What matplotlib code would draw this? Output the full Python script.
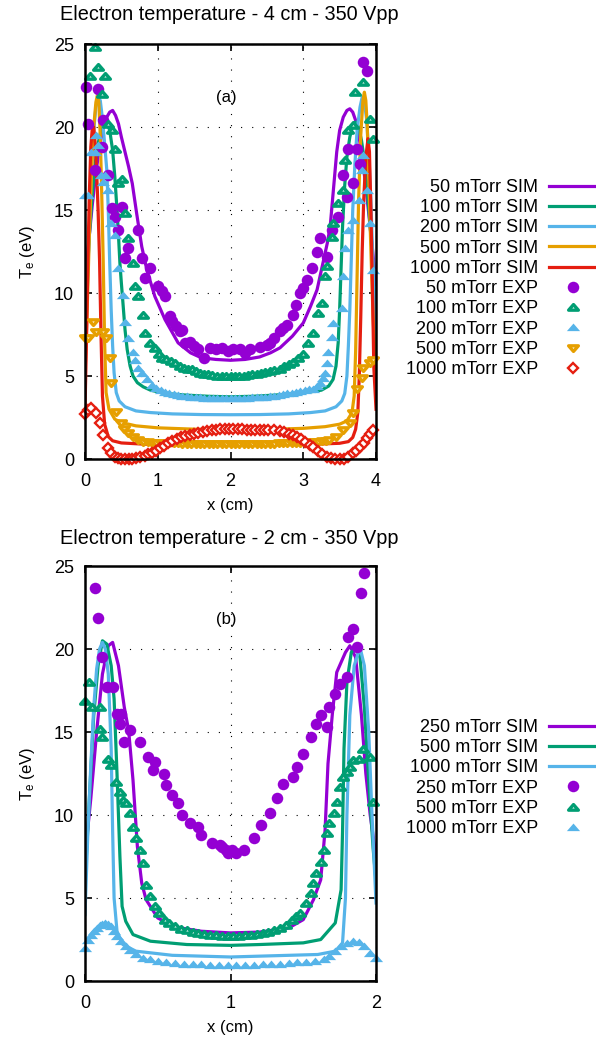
import matplotlib
matplotlib.use("Agg")
import matplotlib.pyplot as plt
from matplotlib.path import Path

plt.rcParams['font.family'] = ['Liberation Sans', 'DejaVu Sans']
plt.rcParams['mathtext.fontset'] = 'custom'
plt.rcParams['mathtext.rm'] = 'Liberation Sans'
plt.rcParams['mathtext.it'] = 'Liberation Sans:italic'

# ---------------- colours ----------------
C_PURPLE = '#9400D3'
C_GREEN = '#009E73'
C_BLUE = '#56B4E9'
C_ORANGE = '#E69F00'
C_RED = '#E51E10'

# ================= panel (a): 4 cm =================
title_a = "Electron temperature - 4 cm - 350 Vpp"
labels_a = ["50 mTorr SIM", "100 mTorr SIM", "200 mTorr SIM", "500 mTorr SIM", "1000 mTorr SIM",
            "50 mTorr EXP", "100 mTorr EXP", "200 mTorr EXP", "500 mTorr EXP", "1000 mTorr EXP"]
xticks_a = [0, 1, 2, 3, 4]
yticks = [0, 5, 10, 15, 20, 25]

sim50_x = [0.0, 0.03, 0.06, 0.1, 0.14, 0.18, 0.22, 0.26, 0.3, 0.34, 0.38, 0.42, 0.46, 0.5, 0.55, 0.6,
           0.65, 0.71, 0.78, 0.85, 0.96, 1.1, 1.28, 1.45, 1.6, 1.8, 2.0, 2.2, 2.4, 2.55, 2.68, 2.85,
           3.0, 3.1, 3.19, 3.27, 3.33, 3.37, 3.42, 3.46, 3.5, 3.55, 3.6, 3.64, 3.68, 3.72, 3.76, 3.8,
           3.85, 3.9, 3.95, 4.0]
sim50_T = [10.5, 12.0, 13.5, 15.3, 16.9, 18.2, 19.3, 20.1, 20.6, 20.9, 21.0, 20.7, 20.2, 19.4, 18.5, 17.6,
           16.6, 14.8, 12.8, 11.4, 9.8, 8.4, 7.0, 6.4, 6.1, 6.0, 5.95, 6.0, 6.15, 6.4, 6.7, 7.4,
           8.2, 9.2, 10.2, 11.8, 13.0, 14.0, 16.5, 18.5, 19.8, 20.6, 21.0, 21.1, 20.9, 20.4, 19.6, 18.5,
           16.8, 14.8, 12.7, 10.5]

sim100_x = [0.0, 0.03, 0.06, 0.1, 0.14, 0.18, 0.22, 0.26, 0.3, 0.34, 0.38, 0.41, 0.44, 0.46, 0.48, 0.5,
            0.52, 0.55, 0.58, 0.62, 0.66, 0.72, 0.8, 0.9, 1.1, 1.4, 1.7, 2.0, 2.3, 2.6, 2.9, 3.1, 3.25,
            3.35, 3.41, 3.45, 3.48, 3.5, 3.52, 3.54, 3.57, 3.6, 3.64, 3.68, 3.72, 3.76, 3.8, 3.84, 3.88,
            3.92, 3.96, 4.0]
sim100_T = [8.5, 11.0, 13.5, 16.0, 17.8, 19.0, 19.8, 20.2, 20.3, 19.8, 18.6, 17.0, 15.0, 13.5, 11.8, 10.6,
            9.5, 7.8, 6.6, 5.6, 5.0, 4.6, 4.35, 4.15, 3.95, 3.85, 3.78, 3.75, 3.78, 3.85, 3.95, 4.05, 4.15,
            4.4, 4.8, 5.6, 7.0, 9.0, 11.5, 14.0, 16.5, 18.2, 19.4, 20.1, 20.3, 20.0, 19.2, 18.0, 16.2,
            14.0, 11.5, 8.5]

sim200_x = [0.0, 0.03, 0.06, 0.09, 0.12, 0.15, 0.18, 0.21, 0.24, 0.27, 0.3, 0.32, 0.34, 0.36, 0.38, 0.4,
            0.43, 0.47, 0.55, 0.7, 0.9, 1.2, 1.6, 2.0, 2.4, 2.8, 3.1, 3.3, 3.45, 3.53, 3.57, 3.6, 3.62,
            3.64, 3.66, 3.68, 3.71, 3.74, 3.78, 3.81, 3.84, 3.87, 3.9, 3.93, 3.96, 4.0]
sim200_T = [6.0, 10.0, 14.0, 17.5, 19.8, 21.2, 21.8, 21.6, 20.5, 19.0, 17.4, 15.0, 11.8, 9.0, 6.8, 5.2,
            4.0, 3.5, 3.15, 2.9, 2.8, 2.72, 2.68, 2.67, 2.68, 2.72, 2.8, 2.9, 3.15, 3.5, 3.95, 5.0, 6.8,
            9.0, 12.0, 15.0, 17.8, 19.8, 21.2, 21.8, 21.5, 20.5, 18.5, 15.5, 11.5, 6.0]

sim500_x = [0.0, 0.03, 0.06, 0.09, 0.12, 0.15, 0.17, 0.19, 0.21, 0.23, 0.25, 0.27, 0.29, 0.33, 0.41,
            0.5, 0.7, 1.0, 1.5, 2.0, 2.5, 3.0, 3.3, 3.5, 3.6, 3.67, 3.7, 3.72, 3.74, 3.76, 3.79, 3.82,
            3.84, 3.86, 3.88, 3.9, 3.93, 3.96, 4.0]
sim500_T = [5.0, 9.0, 13.5, 17.2, 20.0, 21.5, 21.9, 21.5, 19.5, 16.0, 12.0, 7.0, 4.0, 3.0, 2.4,
            2.2, 2.0, 1.88, 1.8, 1.75, 1.78, 1.85, 1.95, 2.1, 2.3, 2.8, 3.8, 6.5, 11.0, 15.5, 19.5, 21.6,
            22.1, 21.6, 20.0, 17.0, 12.5, 8.5, 5.0]

sim1000_x = [0.0, 0.02, 0.04, 0.06, 0.08, 0.1, 0.12, 0.14, 0.16, 0.18, 0.2, 0.22, 0.24, 0.27, 0.32, 0.38,
             0.5, 0.8, 1.2, 2.0, 2.8, 3.2, 3.5, 3.62, 3.68, 3.72, 3.75, 3.77, 3.79, 3.81, 3.83, 3.86,
             3.89, 3.91, 3.93, 3.95, 3.97, 4.0]
sim1000_T = [3.0, 7.0, 12.0, 16.0, 18.8, 19.9, 20.0, 19.0, 17.3, 15.0, 12.0, 7.5, 3.8, 2.1, 1.35, 1.1,
             0.97, 0.9, 0.87, 0.85, 0.87, 0.9, 0.95, 1.05, 1.3, 1.8, 2.8, 5.0, 8.5, 12.5, 15.5, 18.2,
             19.3, 18.5, 15.0, 10.5, 5.5, 3.0]

exp50_x = [0.02, 0.04, 0.14, 0.18, 0.23, 0.25, 0.32, 0.37, 0.41, 0.45, 0.51, 0.55, 0.59, 0.73, 0.78,
           0.82, 0.89, 1.00, 1.06, 1.10, 1.17, 1.20, 1.25, 1.30, 1.33, 1.37, 1.44, 1.50, 1.55, 1.63,
           1.72, 1.80, 1.88, 1.96, 2.04, 2.13, 2.20, 2.27, 2.41, 2.50, 2.54, 2.60, 2.68, 2.72, 2.77,
           2.86, 2.90, 2.96, 3.00, 3.05, 3.12, 3.19, 3.23, 3.32, 3.39, 3.48, 3.55, 3.60, 3.62, 3.68,
           3.74, 3.78, 3.82, 3.87]
exp50_T = [22.4, 20.2, 17.4, 22.3, 18.8, 20.4, 17.1, 15.1, 14.6, 13.8, 15.2, 12.1, 12.7, 13.8, 12.1,
           10.9, 11.5, 10.4, 10.1, 9.8, 8.6, 8.3, 8.0, 7.7, 7.8, 7.0, 7.05, 6.8, 6.6, 6.1,
           6.7, 6.6, 6.7, 6.5, 6.6, 6.6, 6.4, 6.6, 6.75, 6.9, 7.0, 7.3, 7.7, 7.9, 8.1,
           8.7, 9.3, 10.0, 10.3, 10.8, 11.5, 12.5, 13.3, 12.2, 13.8, 14.6, 17.1, 15.8, 18.7, 16.6,
           18.7, 17.8, 23.9, 23.4]

exp100_x = [0.07, 0.14, 0.18, 0.23, 0.27, 0.32, 0.37, 0.41, 0.45, 0.51, 0.55, 0.59, 0.66, 0.69, 0.73,
            0.80, 0.82, 0.90, 0.96, 1.02, 1.06, 1.12, 1.18, 1.24, 1.30, 1.36, 1.42, 1.47, 1.53, 1.58,
            1.64, 1.69, 1.75, 1.81, 1.88, 1.94, 2.00, 2.06, 2.12, 2.18, 2.24, 2.30, 2.36, 2.42, 2.48,
            2.54, 2.60, 2.68, 2.74, 2.80, 2.86, 2.93, 3.00, 3.07, 3.13, 3.20, 3.26, 3.30, 3.32, 3.39,
            3.41, 3.48, 3.55, 3.57, 3.62, 3.68, 3.71, 3.82, 3.92, 3.96]
exp100_T = [23.1, 24.8, 23.6, 22.0, 23.1, 20.2, 19.8, 18.7, 16.6, 16.9, 14.8, 13.3, 11.8, 10.4, 9.8,
            8.7, 7.6, 7.0, 6.7, 6.3, 6.1, 6.0, 5.9, 5.8, 5.6, 5.5, 5.45, 5.4, 5.3, 5.2,
            5.15, 5.1, 5.05, 5.0, 5.0, 5.0, 5.0, 5.0, 5.0, 5.0, 5.05, 5.1, 5.15, 5.2, 5.25,
            5.3, 5.35, 5.4, 5.6, 5.75, 5.85, 6.1, 6.3, 7.0, 7.6, 8.8, 9.4, 11.0, 11.6, 13.4,
            14.2, 15.4, 16.2, 18.0, 19.8, 20.1, 22.1, 22.7, 20.5, 19.3]

exp200_x = [0.0, 0.04, 0.08, 0.14, 0.15, 0.18, 0.22, 0.25, 0.27, 0.32, 0.36, 0.41, 0.45, 0.52, 0.55,
            0.59, 0.66, 0.69, 0.73, 0.78, 0.85, 0.92, 0.98, 1.04, 1.10, 1.16, 1.22, 1.28, 1.34, 1.40,
            1.46, 1.52, 1.58, 1.64, 1.70, 1.76, 1.82, 1.88, 1.94, 2.00, 2.06, 2.12, 2.18, 2.24, 2.30,
            2.36, 2.42, 2.48, 2.54, 2.60, 2.66, 2.72, 2.78, 2.84, 2.90, 2.96, 3.02, 3.08, 3.14, 3.19,
            3.23, 3.27, 3.30, 3.32, 3.34, 3.39, 3.41, 3.53, 3.55, 3.57, 3.62, 3.68, 3.76, 3.81, 3.82,
            3.88, 3.92, 3.96]
exp200_T = [15.9, 15.9, 18.5, 18.5, 19.5, 18.9, 17.1, 16.7, 17.1, 16.2, 14.2, 13.5, 11.5, 9.9, 8.25,
            7.3, 6.45, 5.96, 5.5, 5.2, 4.8, 4.46, 4.3, 4.15, 4.05, 3.95, 3.9, 3.85, 3.8, 3.78,
            3.76, 3.74, 3.72, 3.7, 3.7, 3.68, 3.68, 3.67, 3.67, 3.67, 3.67, 3.67, 3.68, 3.7, 3.71,
            3.72, 3.74, 3.76, 3.78, 3.8, 3.85, 3.9, 3.95, 4.0, 4.05, 4.1, 4.15, 4.2, 4.2, 4.4,
            4.6, 4.9, 5.2, 5.8, 6.45, 7.35, 8.2, 9.1, 11.0, 12.7, 13.8, 14.4, 15.6, 17.4, 18.3,
            16.2, 14.2, 11.4]

exp500_x = [0.0, 0.04, 0.11, 0.15, 0.25, 0.29, 0.34, 0.36, 0.43, 0.49, 0.54, 0.59, 0.66, 0.73, 0.80,
            0.86, 0.92, 0.98, 1.04, 1.10, 1.16, 1.22, 1.28, 1.34, 1.40, 1.46, 1.52, 1.58, 1.64, 1.70,
            1.76, 1.82, 1.88, 1.94, 2.00, 2.06, 2.12, 2.18, 2.24, 2.30, 2.36, 2.42, 2.48, 2.54, 2.60,
            2.66, 2.72, 2.78, 2.84, 2.90, 2.96, 3.02, 3.08, 3.14, 3.20, 3.26, 3.31, 3.36, 3.45, 3.55,
            3.64, 3.68, 3.74, 3.81, 3.82, 3.92, 3.96]
exp500_T = [7.3, 7.3, 8.25, 7.65, 7.65, 7.3, 6.1, 4.6, 2.83, 2.17, 1.8, 1.57, 1.3, 1.14, 1.05,
            1.0, 0.98, 0.97, 0.96, 0.95, 0.95, 0.94, 0.94, 0.93, 0.93, 0.93, 0.92, 0.92, 0.92, 0.92,
            0.92, 0.92, 0.92, 0.92, 0.92, 0.92, 0.92, 0.92, 0.92, 0.92, 0.92, 0.92, 0.93, 0.93, 0.93,
            0.94, 0.94, 0.95, 0.95, 0.96, 0.97, 0.98, 1.0, 1.02, 1.04, 1.06, 1.1, 1.15, 1.3, 1.75,
            2.2, 2.8, 4.2, 4.9, 5.5, 5.8, 5.96]

exp1000_x = [0.0, 0.04, 0.08, 0.15, 0.20, 0.25, 0.32, 0.36, 0.41, 0.45, 0.50, 0.55, 0.60, 0.65, 0.70,
             0.76, 0.82, 0.87, 0.92, 0.97, 1.03, 1.08, 1.14, 1.20, 1.26, 1.32, 1.38, 1.44, 1.50, 1.56,
             1.62, 1.68, 1.74, 1.80, 1.86, 1.92, 1.98, 2.04, 2.10, 2.16, 2.22, 2.28, 2.34, 2.40, 2.46,
             2.52, 2.60, 2.68, 2.74, 2.80, 2.86, 2.91, 2.97, 3.03, 3.09, 3.14, 3.20, 3.26, 3.32, 3.38,
             3.44, 3.50, 3.56, 3.62, 3.68, 3.73, 3.78, 3.83, 3.88, 3.92, 3.96]
exp1000_T = [2.7, 2.95, 3.07, 2.77, 2.17, 1.45, 0.66, 0.35, 0.12, 0.06, 0.0, 0.0, 0.0, 0.02, 0.05,
             0.1, 0.2, 0.28, 0.36, 0.5, 0.65, 0.8, 0.96, 1.08, 1.2, 1.3, 1.38, 1.45, 1.52, 1.58,
             1.64, 1.69, 1.73, 1.76, 1.78, 1.8, 1.8, 1.8, 1.79, 1.78, 1.77, 1.76, 1.76, 1.76, 1.76,
             1.76, 1.74, 1.7, 1.62, 1.53, 1.43, 1.33, 1.2, 1.02, 0.86, 0.72, 0.5, 0.3, 0.12, 0.04,
             0.0, 0.0, 0.02, 0.15, 0.36, 0.5, 0.72, 0.98, 1.27, 1.5, 1.75]

# ================= panel (b): 2 cm =================
title_b = "Electron temperature - 2 cm - 350 Vpp"
labels_b = ["250 mTorr SIM", "500 mTorr SIM", "1000 mTorr SIM",
            "250 mTorr EXP", "500 mTorr EXP", "1000 mTorr EXP"]
xticks_b = [0, 1, 2]

simb250_x = [0.0, 0.04, 0.08, 0.12, 0.16, 0.19, 0.23, 0.27, 0.3, 0.33, 0.36, 0.39, 0.42, 0.5, 0.62, 0.8,
             1.0, 1.2, 1.4, 1.5, 1.57, 1.62, 1.65, 1.67, 1.7, 1.73, 1.79, 1.82, 1.86, 1.9, 1.93, 1.96, 2.0]
simb250_T = [7.5, 11.0, 15.0, 18.5, 20.2, 20.4, 19.0, 16.5, 15.1, 12.1, 8.1, 5.9, 4.9, 3.8, 3.25, 3.0,
             2.9, 2.95, 3.2, 3.7, 4.9, 6.1, 9.1, 13.1, 16.1, 18.6, 19.8, 20.2, 19.5, 16.0, 12.5, 10.0, 7.5]

simb500_x = [0.0, 0.03, 0.06, 0.09, 0.12, 0.15, 0.18, 0.2, 0.22, 0.24, 0.255, 0.28, 0.33, 0.45, 0.7, 1.0,
             1.2, 1.5, 1.62, 1.72, 1.76, 1.77, 1.78, 1.8, 1.83, 1.86, 1.89, 1.92, 1.95, 1.98, 2.0]
simb500_T = [5.9, 11.0, 16.0, 19.0, 20.5, 20.3, 19.0, 17.0, 12.5, 7.5, 4.5, 3.6, 2.8, 2.4, 2.2, 2.15,
             2.2, 2.3, 2.5, 3.5, 5.5, 9.0, 14.0, 18.0, 19.8, 20.1, 19.5, 16.5, 12.0, 8.0, 6.0]

simb1000_x = [0.0, 0.02, 0.04, 0.06, 0.08, 0.1, 0.12, 0.14, 0.16, 0.18, 0.19, 0.2, 0.22, 0.26, 0.35, 0.6,
              1.0, 1.2, 1.6, 1.72, 1.77, 1.79, 1.8, 1.82, 1.85, 1.89, 1.92, 1.95, 1.97, 2.0]
simb1000_T = [4.0, 9.0, 13.0, 16.5, 18.8, 20.0, 20.4, 20.0, 18.5, 14.0, 9.0, 5.0, 3.0, 2.2, 1.8, 1.55,
              1.45, 1.5, 1.6, 1.8, 2.3, 5.0, 10.0, 16.0, 19.0, 20.1, 19.0, 15.0, 10.5, 4.7]

expb250_x = [0.07, 0.09, 0.12, 0.15, 0.19, 0.22, 0.24, 0.25, 0.27, 0.31, 0.38, 0.43, 0.47, 0.48, 0.54,
             0.56, 0.6, 0.64, 0.67, 0.72, 0.78, 0.8, 0.87, 0.93, 0.94, 0.97, 0.98, 1.01, 1.04, 1.09,
             1.16, 1.21, 1.27, 1.32, 1.36, 1.43, 1.46, 1.5, 1.55, 1.59, 1.62, 1.66, 1.68, 1.72, 1.75,
             1.8, 1.81, 1.84, 1.87, 1.9, 1.92]
expb250_T = [23.7, 21.9, 19.5, 17.7, 17.7, 16.1, 15.5, 16.1, 14.4, 15.1, 14.4, 13.5, 12.7, 13.2, 12.5,
             11.8, 11.2, 10.7, 10.0, 9.5, 9.3, 8.8, 8.3, 8.2, 8.1, 7.9, 7.7, 7.9, 7.7, 7.9,
             8.6, 9.4, 10.1, 11.0, 11.9, 12.3, 12.9, 13.7, 14.7, 15.5, 16.0, 15.3, 16.5, 17.3, 17.9,
             18.3, 20.7, 21.2, 20.1, 23.4, 24.6]

expb500_x = [0.0, 0.03, 0.05, 0.1, 0.1, 0.12, 0.16, 0.18, 0.21, 0.24, 0.26, 0.28, 0.31, 0.33, 0.35,
             0.38, 0.4, 0.42, 0.45, 0.48, 0.51, 0.55, 0.58, 0.62, 0.66, 0.7, 0.74, 0.78, 0.82, 0.86,
             0.9, 0.94, 0.98, 1.02, 1.06, 1.1, 1.14, 1.18, 1.22, 1.26, 1.3, 1.34, 1.38, 1.42, 1.45,
             1.48, 1.52, 1.55, 1.57, 1.59, 1.62, 1.64, 1.66, 1.68, 1.71, 1.73, 1.75, 1.77, 1.8, 1.82,
             1.84, 1.88, 1.91, 1.96, 1.98]
expb500_T = [16.9, 18.0, 16.5, 16.5, 15.2, 14.7, 13.4, 13.0, 12.0, 11.4, 10.9, 10.7, 10.1, 9.3, 8.6,
             7.9, 7.1, 5.8, 5.1, 4.5, 4.1, 3.7, 3.5, 3.3, 3.15, 3.05, 2.95, 2.88, 2.82, 2.78,
             2.75, 2.73, 2.72, 2.72, 2.73, 2.75, 2.78, 2.82, 2.88, 2.95, 3.05, 3.2, 3.4, 3.65, 3.9,
             4.1, 4.7, 5.3, 5.9, 6.5, 7.2, 7.9, 8.9, 9.5, 10.1, 10.8, 11.7, 12.3, 12.6, 12.9,
             13.3, 13.4, 14.0, 13.5, 10.8]

expb1000_x = [0.0, 0.02, 0.04, 0.06, 0.08, 0.1, 0.12, 0.14, 0.16, 0.18, 0.2, 0.22, 0.25, 0.28, 0.31,
              0.35, 0.4, 0.45, 0.5, 0.56, 0.62, 0.68, 0.74, 0.8, 0.86, 0.92, 0.98, 1.04, 1.1, 1.16,
              1.22, 1.28, 1.34, 1.4, 1.46, 1.52, 1.58, 1.64, 1.68, 1.72, 1.76, 1.8, 1.84, 1.88, 1.92,
              1.96, 2.0]
expb1000_T = [2.0, 2.5, 2.8, 3.0, 3.2, 3.35, 3.45, 3.5, 3.45, 3.3, 3.0, 2.7, 2.4, 2.1, 1.85,
              1.6, 1.4, 1.3, 1.2, 1.15, 1.1, 1.05, 1.02, 1.0, 0.98, 0.97, 0.96, 0.96, 0.97, 0.98,
              1.0, 1.02, 1.05, 1.08, 1.12, 1.15, 1.2, 1.3, 1.5, 1.8, 2.1, 2.3, 2.4, 2.35, 2.1,
              1.7, 1.4]

# ---------------- marker shapes (gnuplot-like) ----------------
TRI_UP = Path([(-1.0, -0.55), (1.0, -0.55), (0.0, 0.6), (-1.0, -0.55)],
              [Path.MOVETO, Path.LINETO, Path.LINETO, Path.CLOSEPOLY])
TRI_DN = Path([(-1.0, 0.55), (1.0, 0.55), (0.0, -0.6), (-1.0, 0.55)],
              [Path.MOVETO, Path.LINETO, Path.LINETO, Path.CLOSEPOLY])

LW = 2.3
FS = 13        # ticks and legend
FS_LAB = 12    # axis labels
FS_TIT = 14.3  # titles


def style_circle(c):
    return dict(linestyle='none', marker='o', markersize=8.3, color=c, markeredgewidth=0)


def style_open_tri(c, path):
    return dict(linestyle='none', marker=path, markersize=7.0, color=c,
                markerfacecolor='white', markeredgecolor=c, markeredgewidth=2.4)


def style_fill_tri(c):
    return dict(linestyle='none', marker=TRI_UP, markersize=9.5, color=c, markeredgewidth=0)


def style_open_diamond(c):
    return dict(linestyle='none', marker='D', markersize=5.4, color=c,
                markerfacecolor='white', markeredgecolor=c, markeredgewidth=1.7)


def setup_axes(ax, xmax, xticks):
    ax.set_xlim(0, xmax)
    ax.set_ylim(0, 25)
    ax.set_xticks(xticks)
    ax.set_yticks(yticks)
    ax.set_xticklabels([str(t) for t in xticks])
    ax.set_yticklabels([str(t) for t in yticks])
    ax.tick_params(direction='in', top=True, right=True, length=5, width=1.2,
                   labelsize=FS, pad=8)
    ax.tick_params(axis='x', pad=10)
    ax.grid(True, color='black', linewidth=0.8, linestyle=(0, (1, 9)))
    ax.set_axisbelow(True)
    for s in ax.spines.values():
        s.set_linewidth(1.8)
    ax.set_xlabel('x (cm)', fontsize=FS_LAB)
    ax.set_ylabel(r'T$_\mathrm{e}$ (eV)', fontsize=FS_LAB)
    ax.yaxis.set_label_coords(-0.196, 0.5)
    ax.xaxis.set_label_coords(0.5, -0.111)
    ax.xaxis.label.set_va('center')
    ax.yaxis.label.set_va('center')


LEG_KW = dict(markerfirst=False, frameon=False, fontsize=FS, loc='center right',
              handlelength=2.7, handletextpad=0.6, labelspacing=0.18,
              borderpad=0, borderaxespad=0, numpoints=1)

fig = plt.figure(figsize=(5.96, 10.44), dpi=100)

# ---------- panel (a) ----------
axa = fig.add_axes([0.1426, 0.5603, 0.4883, 0.3975])
ha = []
for xs, ts, c in [(sim50_x, sim50_T, C_PURPLE), (sim100_x, sim100_T, C_GREEN),
                  (sim200_x, sim200_T, C_BLUE), (sim500_x, sim500_T, C_ORANGE),
                  (sim1000_x, sim1000_T, C_RED)]:
    ha += axa.plot(xs, ts, color=c, linewidth=LW)
ha += axa.plot(exp50_x, exp50_T, clip_on=False, **style_circle(C_PURPLE))
ha += axa.plot(exp100_x, exp100_T, clip_on=False, **style_open_tri(C_GREEN, TRI_UP))
ha += axa.plot(exp200_x, exp200_T, clip_on=False, **style_fill_tri(C_BLUE))
ha += axa.plot(exp500_x, exp500_T, clip_on=False, **style_open_tri(C_ORANGE, TRI_DN))
ha += axa.plot(exp1000_x, exp1000_T, clip_on=False, **style_open_diamond(C_RED))
setup_axes(axa, 4, xticks_a)
axa.text(1.94, 21.8, '(a)', fontsize=FS_LAB, ha='center', va='center')
axa.legend(ha, labels_a, bbox_to_anchor=(1.003, 1 - 278.5 / 1044),
           bbox_transform=fig.transFigure, **LEG_KW)
fig.text(60 / 596, 1 - 15 / 1044, title_a, fontsize=FS_TIT, ha='left', va='center')

# ---------- panel (b) ----------
axb = fig.add_axes([0.1426, 0.0603, 0.4883, 0.3975])
hb = []
for xs, ts, c in [(simb250_x, simb250_T, C_PURPLE), (simb500_x, simb500_T, C_GREEN),
                  (simb1000_x, simb1000_T, C_BLUE)]:
    hb += axb.plot(xs, ts, color=c, linewidth=LW)
hb += axb.plot(expb250_x, expb250_T, clip_on=False, **style_circle(C_PURPLE))
hb += axb.plot(expb500_x, expb500_T, clip_on=False, **style_open_tri(C_GREEN, TRI_UP))
hb += axb.plot(expb1000_x, expb1000_T, clip_on=False, **style_fill_tri(C_BLUE))
setup_axes(axb, 2, xticks_b)
axb.text(0.97, 21.8, '(b)', fontsize=FS_LAB, ha='center', va='center')
axb.legend(hb, labels_b, bbox_to_anchor=(1.003, 1 - 778 / 1044),
           bbox_transform=fig.transFigure, **LEG_KW)
fig.text(60 / 596, 1 - 538 / 1044, title_b, fontsize=FS_TIT, ha='left', va='center')

fig.savefig('out.png', dpi=100)
